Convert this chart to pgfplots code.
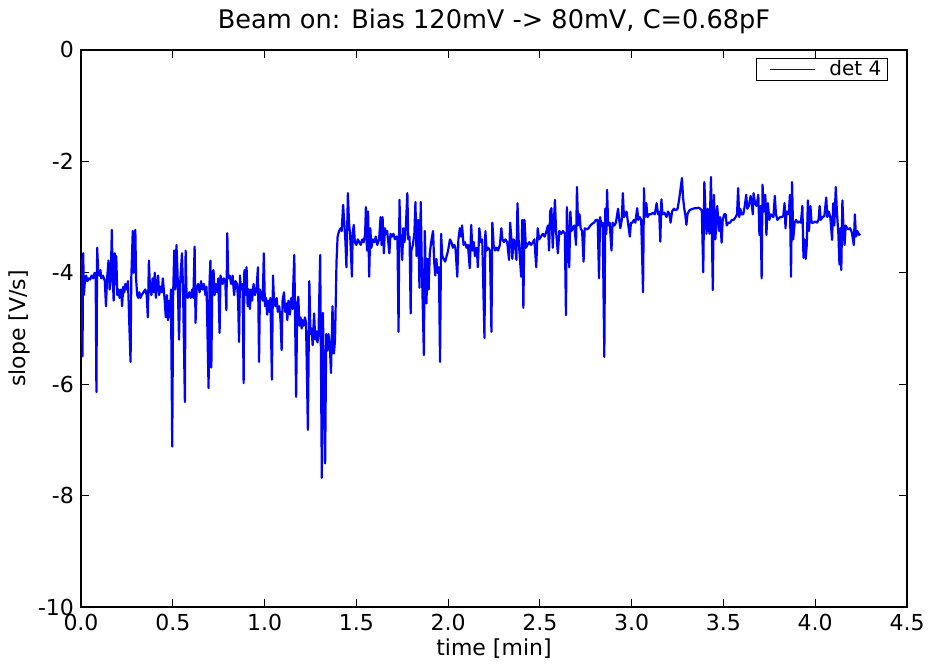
\documentclass[border=0pt]{standalone}
\usepackage{pgfplots}
\pgfplotsset{compat=1.18}
\usepackage{fontspec}
\setmainfont{DejaVu Sans}
\definecolor{mplblue}{RGB}{0,0,255}
\begin{document}
\begin{tikzpicture}
\useasboundingbox (-40.5pt,-30pt) rectangle (424.5pt,303.5pt);
\begin{axis}[
  at={(0pt,0pt)}, anchor=south west,
  scale only axis, width=413pt, height=278.5pt,
  xmin=0, xmax=4.5, ymin=-10, ymax=0,
  xtick={0,0.5,...,4.5}, ytick={-10,-8,...,0},
  tick align=inside, tick pos=both,
  major tick length=4pt,
  tick style={black, line width=0.6pt},
  axis line style={black, line width=0.9pt},
  xticklabel style={/pgf/number format/.cd, fixed, fixed zerofill, precision=1},
  /pgf/number format/assume math mode=true,
  ticklabel style={font=\fontsize{11}{13}\selectfont},
  label style={font=\fontsize{11}{13}\selectfont},
  xlabel={time [min]}, ylabel={slope [V/s]},
  xlabel style={yshift=3pt},
  ylabel style={yshift=-3pt},
  title={Beam on: Bias 120mV -> 80mV, C=0.68pF},
  title style={font=\fontsize{12.8}{15}\selectfont, yshift=-1.5pt},
  legend style={at={(rel axis cs:0.977,0.986)}, anchor=north east, draw=black, line width=0.6pt,
    font=\fontsize{10}{11}\selectfont, inner xsep=0pt, inner ysep=0pt, rounded corners=0pt,
    nodes={inner xsep=3pt, inner ysep=1pt}},
  legend cell align=left,
]
\addplot[color=mplblue, line width=1.1pt, line join=round,
  legend image code/.code={\path[draw=none, fill=none] (-7pt,0pt) -- (26.5pt,0pt); \draw[##1, draw=mplblue, line width=0.55pt] (0pt,0pt) -- (22.5pt,0pt);}] coordinates {
(0.000,-4.15)(0.004,-3.75)(0.008,-5.50)(0.012,-3.65)(0.016,-4.40)(0.020,-4.20)(0.028,-4.05)(0.035,-4.15)
(0.042,-4.10)(0.050,-4.12)(0.058,-4.05)(0.066,-4.10)(0.074,-4.00)(0.080,-4.08)(0.084,-6.14)(0.088,-3.55)
(0.094,-4.00)(0.100,-4.05)(0.106,-3.95)(0.110,-4.10)(0.120,-4.05)(0.130,-4.15)(0.136,-4.60)(0.142,-4.10)
(0.150,-3.78)(0.156,-4.30)(0.162,-4.10)(0.168,-3.23)(0.172,-4.00)(0.178,-4.50)(0.184,-3.65)(0.188,-4.20)
(0.192,-3.70)(0.198,-4.40)(0.204,-4.30)(0.210,-4.45)(0.218,-4.30)(0.224,-4.60)(0.230,-4.25)(0.236,-4.35)
(0.242,-4.20)(0.248,-4.30)(0.256,-4.15)(0.264,-5.00)(0.270,-5.60)(0.274,-4.10)(0.282,-3.25)(0.287,-4.00)
(0.292,-3.40)(0.296,-3.23)(0.300,-4.10)(0.306,-4.40)(0.312,-4.45)(0.318,-4.35)(0.324,-4.45)(0.330,-4.40)
(0.340,-4.35)(0.350,-4.30)(0.358,-4.40)(0.364,-4.80)(0.370,-3.78)(0.376,-4.30)(0.384,-4.40)(0.390,-4.10)
(0.396,-4.35)(0.402,-4.00)(0.408,-4.45)(0.414,-4.20)(0.420,-4.05)(0.426,-4.40)(0.432,-4.25)(0.440,-4.35)
(0.446,-4.10)(0.456,-4.50)(0.462,-4.80)(0.468,-4.40)(0.474,-4.85)(0.480,-4.50)(0.486,-4.80)(0.490,-4.30)
(0.497,-7.12)(0.502,-4.40)(0.508,-3.60)(0.514,-4.30)(0.520,-3.50)(0.526,-4.00)(0.534,-5.20)(0.540,-4.20)
(0.550,-3.65)(0.556,-4.30)(0.566,-6.32)(0.570,-3.60)(0.575,-4.40)
(0.582,-4.45)(0.590,-4.35)(0.598,-4.45)(0.606,-4.30)(0.612,-4.45)(0.619,-3.53)(0.624,-4.90)(0.630,-4.30)
(0.638,-4.20)(0.646,-4.35)(0.654,-4.15)(0.662,-4.30)(0.670,-4.20)(0.678,-4.40)(0.684,-4.25)(0.695,-6.07)
(0.700,-4.20)(0.705,-3.78)(0.710,-5.70)(0.716,-4.00)(0.722,-3.95)(0.728,-4.40)(0.734,-4.20)(0.742,-4.35)
(0.748,-4.10)(0.755,-5.08)(0.760,-4.05)(0.766,-4.15)(0.772,-4.20)(0.778,-4.10)(0.786,-4.15)(0.792,-4.67)
(0.797,-3.29)(0.802,-4.10)(0.810,-4.05)(0.818,-4.20)(0.826,-4.05)(0.834,-4.40)(0.842,-4.15)(0.850,-4.20)
(0.856,-4.50)(0.861,-5.24)(0.866,-4.05)(0.872,-4.30)(0.880,-4.20)(0.886,-5.98)(0.890,-3.95)(0.896,-4.40)
(0.902,-3.90)(0.908,-4.60)(0.914,-4.30)(0.920,-4.65)(0.926,-4.30)(0.932,-4.50)(0.940,-4.20)(0.948,-4.40)
(0.956,-4.30)(0.964,-3.90)(0.970,-5.60)(0.975,-4.30)(0.982,-4.40)(0.990,-4.50)(0.996,-3.65)(1.002,-4.60)
(1.008,-4.45)(1.014,-4.75)(1.020,-4.50)(1.026,-4.70)(1.032,-4.45)(1.040,-5.92)(1.046,-4.05)(1.052,-4.55)
(1.060,-4.60)(1.066,-4.45)(1.072,-4.70)(1.080,-4.60)(1.087,-4.85)(1.093,-5.39)(1.098,-4.50)(1.106,-4.35)
(1.112,-4.70)(1.118,-4.55)(1.124,-4.85)(1.130,-4.50)(1.138,-4.75)
(1.146,-4.45)(1.152,-4.65)(1.162,-3.68)(1.172,-6.23)(1.178,-4.55)(1.184,-4.43)(1.190,-4.95)(1.196,-4.80)
(1.202,-5.00)(1.208,-4.85)(1.214,-4.95)(1.220,-4.80)(1.226,-4.90)(1.236,-6.82)(1.244,-4.15)(1.250,-5.10)
(1.256,-5.00)(1.262,-5.30)(1.270,-4.73)(1.276,-5.20)(1.282,-5.05)(1.288,-5.25)(1.294,-5.10)(1.303,-3.68)
(1.312,-7.68)(1.318,-4.72)(1.330,-7.42)(1.336,-5.10)(1.342,-5.40)(1.348,-5.10)(1.356,-5.35)(1.362,-5.80)
(1.370,-4.60)(1.378,-5.45)(1.384,-5.20)(1.392,-3.80)(1.398,-3.35)(1.406,-3.25)(1.414,-3.20)(1.420,-3.25)
(1.428,-2.78)(1.434,-3.10)(1.440,-3.40)(1.446,-3.90)(1.454,-2.57)(1.460,-3.10)(1.466,-3.30)(1.476,-4.07)
(1.480,-3.30)(1.486,-3.14)(1.492,-3.45)(1.500,-3.50)(1.508,-3.40)(1.516,-3.45)(1.524,-3.50)(1.532,-3.40)
(1.540,-3.45)(1.548,-3.30)(1.552,-2.82)(1.558,-3.60)(1.564,-2.90)(1.570,-4.07)(1.576,-3.20)(1.582,-3.55)
(1.590,-3.40)(1.598,-3.45)(1.606,-3.35)(1.614,-3.50)(1.624,-3.40)(1.632,-3.00)(1.637,-3.50)(1.643,-3.00)
(1.650,-3.65)(1.656,-3.20)(1.662,-3.30)(1.668,-3.25)(1.680,-3.65)(1.686,-3.30)(1.694,-3.35)(1.702,-3.30)
(1.710,-3.40)(1.718,-3.35)(1.724,-3.35)(1.730,-5.06)(1.735,-2.69)
(1.740,-3.30)(1.746,-3.50)(1.750,-3.77)(1.756,-3.20)(1.762,-3.45)(1.768,-3.30)(1.778,-2.57)(1.783,-3.40)
(1.790,-3.35)(1.796,-4.73)(1.800,-3.60)(1.808,-3.50)(1.816,-3.30)(1.822,-2.73)(1.828,-3.70)(1.836,-3.05)
(1.844,-4.27)(1.851,-2.73)(1.856,-3.75)(1.868,-5.48)(1.873,-3.25)(1.882,-4.55)(1.888,-3.75)(1.894,-4.30)
(1.900,-3.65)(1.910,-3.40)(1.918,-3.25)(1.924,-3.80)(1.930,-4.05)(1.936,-3.75)(1.942,-4.00)(1.950,-3.90)
(1.956,-5.60)(1.962,-3.30)(1.968,-3.70)(1.976,-3.75)(1.984,-3.80)(1.992,-3.70)(2.000,-3.60)(2.010,-3.40)
(2.018,-3.45)(2.026,-3.55)(2.034,-3.50)(2.040,-3.55)(2.050,-4.07)(2.056,-3.40)(2.064,-3.20)(2.070,-3.35)
(2.076,-3.15)(2.084,-3.50)(2.092,-3.45)(2.100,-3.55)(2.108,-3.50)(2.118,-3.92)(2.126,-3.14)(2.132,-3.60)
(2.140,-3.45)(2.146,-3.70)(2.156,-3.55)(2.162,-3.90)(2.170,-3.20)(2.178,-3.45)(2.186,-3.40)(2.198,-5.17)
(2.203,-3.25)(2.210,-3.60)(2.218,-3.55)(2.228,-3.60)(2.236,-5.06)(2.241,-3.10)(2.248,-3.50)(2.256,-3.60)
(2.264,-3.55)(2.272,-3.60)(2.282,-3.50)(2.290,-3.20)(2.296,-3.40)(2.304,-3.45)(2.312,-3.40)(2.322,-3.45)
(2.332,-3.77)(2.338,-3.10)(2.346,-3.45)
(2.350,-3.75)(2.356,-3.40)(2.364,-3.45)(2.372,-3.77)(2.378,-2.75)(2.384,-3.40)(2.398,-4.07)(2.404,-3.05)
(2.410,-4.63)(2.416,-3.05)(2.424,-3.55)(2.432,-3.50)(2.442,-3.45)(2.452,-3.50)(2.462,-3.45)(2.470,-3.40)
(2.480,-3.90)(2.488,-3.20)(2.496,-3.40)(2.506,-3.35)(2.516,-3.30)(2.526,-3.35)(2.536,-3.25)(2.544,-3.15)
(2.550,-3.60)(2.556,-2.90)(2.563,-2.84)(2.570,-3.55)(2.582,-2.69)(2.588,-3.25)(2.598,-3.65)(2.606,-3.25)
(2.616,-3.30)(2.626,-3.25)(2.636,-3.30)(2.642,-4.76)(2.647,-2.82)(2.654,-3.40)(2.660,-3.90)(2.666,-2.90)
(2.672,-3.25)(2.680,-3.20)(2.688,-3.15)(2.697,-3.50)(2.702,-2.46)(2.708,-3.15)(2.716,-2.95)(2.722,-3.20)
(2.730,-3.25)(2.738,-3.80)(2.744,-3.20)(2.755,-3.22)(2.765,-3.20)(2.775,-3.15)(2.785,-3.12)(2.795,-3.10)
(2.805,-3.05)(2.815,-3.05)(2.822,-4.10)(2.828,-3.00)(2.836,-3.15)(2.842,-3.10)(2.851,-5.51)(2.856,-2.85)
(2.862,-3.30)(2.866,-2.51)(2.872,-3.15)(2.880,-3.10)(2.890,-3.60)(2.896,-3.10)(2.906,-3.15)(2.914,-3.10)
(2.926,-2.85)(2.932,-3.05)(2.938,-3.20)(2.946,-3.05)(2.952,-2.57)(2.958,-3.00)(2.966,-2.95)(2.972,-2.90)
(2.978,-3.05)
(2.984,-3.20)(2.990,-3.35)(2.996,-3.10)(3.004,-3.10)(3.012,-3.05)(3.020,-3.10)(3.030,-2.84)(3.036,-3.05)
(3.044,-3.00)(3.052,-3.05)(3.062,-4.35)(3.067,-2.48)(3.072,-3.00)(3.080,-2.75)(3.086,-3.00)(3.096,-2.95)
(3.106,-2.95)(3.116,-2.92)(3.126,-2.95)(3.136,-2.75)(3.144,-2.95)(3.150,-2.90)(3.156,-3.44)(3.162,-2.68)
(3.168,-2.95)(3.178,-2.92)(3.190,-3.00)(3.198,-2.90)(3.206,-2.95)(3.212,-3.10)(3.220,-2.90)(3.230,-2.85)
(3.240,-2.88)(3.250,-2.85)(3.258,-2.70)(3.266,-2.50)(3.274,-2.30)(3.280,-2.65)(3.286,-2.84)(3.292,-2.95)
(3.298,-3.14)(3.304,-2.95)(3.314,-2.88)(3.324,-2.86)(3.334,-2.85)(3.344,-2.84)(3.354,-2.84)(3.364,-2.83)
(3.374,-2.85)(3.382,-2.88)(3.390,-3.99)(3.396,-2.37)(3.402,-2.90)(3.408,-3.30)(3.414,-2.85)(3.424,-3.30)
(3.432,-2.28)(3.442,-4.31)(3.448,-2.60)(3.456,-3.40)(3.466,-2.80)(3.476,-3.25)(3.482,-3.00)(3.490,-3.46)
(3.496,-3.05)(3.504,-2.95)(3.512,-2.95)(3.518,-3.15)(3.526,-3.10)(3.536,-3.10)(3.546,-3.05)(3.556,-3.05)
(3.566,-3.00)(3.574,-2.95)(3.580,-2.48)(3.586,-3.00)(3.592,-2.85)(3.598,-2.95)(3.608,-2.95)(3.616,-2.80)
(3.624,-2.60)(3.630,-2.85)(3.638,-2.80)(3.648,-2.62)(3.654,-2.75)
(3.660,-2.95)(3.664,-2.57)(3.672,-2.75)(3.680,-2.80)(3.690,-2.60)(3.696,-3.32)(3.702,-2.80)(3.708,-4.10)
(3.713,-2.42)(3.720,-2.90)(3.728,-2.60)(3.734,-3.32)(3.742,-2.75)(3.750,-3.05)(3.758,-2.95)(3.772,-3.00)
(3.780,-2.62)(3.786,-2.95)(3.794,-3.05)(3.802,-3.02)(3.810,-3.00)(3.818,-3.00)(3.826,-2.98)(3.833,-2.75)
(3.838,-3.20)(3.844,-2.90)(3.856,-2.95)(3.862,-2.60)(3.868,-4.07)(3.874,-2.37)(3.880,-3.40)(3.888,-3.10)
(3.896,-3.05)(3.904,-3.10)(3.912,-3.08)(3.922,-3.10)(3.930,-2.80)(3.936,-3.73)(3.942,-3.40)(3.948,-3.75)
(3.954,-3.50)(3.960,-2.70)(3.966,-3.25)(3.974,-2.80)(3.980,-3.10)(3.990,-3.10)(4.000,-3.08)(4.010,-3.10)
(4.018,-3.05)(4.024,-2.80)(4.030,-3.05)(4.040,-3.00)(4.050,-2.98)(4.060,-2.65)(4.066,-3.00)(4.074,-2.90)
(4.082,-3.00)(4.092,-3.41)(4.098,-2.75)(4.104,-3.15)(4.112,-2.46)(4.118,-2.90)(4.126,-3.30)(4.132,-3.85)
(4.138,-3.20)(4.142,-3.95)(4.148,-2.70)(4.154,-3.20)(4.160,-3.50)(4.166,-3.15)(4.174,-3.20)(4.182,-3.22)
(4.190,-3.20)(4.200,-3.28)(4.210,-3.50)(4.216,-2.95)(4.222,-3.35)(4.230,-3.25)(4.238,-3.32)(4.245,-3.30)
};
\addlegendentry{det 4}
\end{axis}
\end{tikzpicture}
\end{document}
